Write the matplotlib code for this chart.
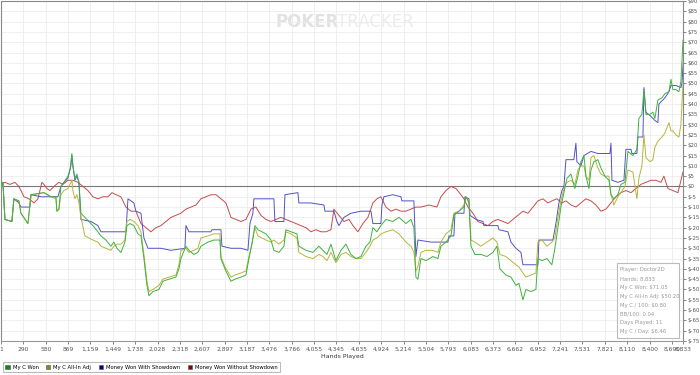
import matplotlib
matplotlib.use("Agg")
import matplotlib.pyplot as plt
import matplotlib.patches as mpatches
from matplotlib.ticker import FuncFormatter

# hands played / dollars
won_x = [1, 26, 52, 142, 168, 233, 259, 350, 389, 557, 648, 712, 725, 751, 777, 816, 868, 894, 919, 932,
         958, 984, 1010, 1036, 1088, 1140, 1191, 1256, 1295, 1360, 1425, 1463, 1502, 1554, 1606, 1632,
         1671, 1722, 1774, 1813, 1852, 1891, 1917, 1968, 2046, 2098, 2176, 2266, 2305, 2331, 2396, 2435,
         2499, 2551, 2590, 2681, 2758, 2836, 2849, 2901, 2979, 3030, 3108, 3173, 3212, 3250, 3289, 3328,
         3432, 3497, 3535, 3600, 3665, 3691, 3756, 3833, 3859, 3950, 4040, 4118, 4170, 4222, 4274, 4338,
         4403, 4468, 4533, 4597, 4662, 4727, 4779, 4817, 4869, 4921, 4986, 5076, 5154, 5245, 5310, 5348,
         5374, 5400, 5439, 5504, 5594, 5659, 5698, 5763, 5828, 5866, 5931, 5996, 6022, 6061, 6087, 6138,
         6216, 6294, 6371, 6423, 6462, 6540, 6605, 6669, 6708, 6760, 6799, 6864, 6928, 6954, 7006, 7071,
         7135, 7174, 7213, 7252, 7291, 7330, 7382, 7433, 7472, 7511, 7550, 7576, 7615, 7641, 7679, 7731,
         7770, 7822, 7874, 7900, 7938, 7990, 8029, 8081, 8120, 8184, 8236, 8262, 8301, 8327, 8353, 8405,
         8443, 8469, 8508, 8560, 8599, 8651, 8677, 8702, 8741, 8780, 8806, 8833]
won_y = [0, 2, -16, -17, -6, -7, -13, -18, -4, -3, -5, -5, -12, -11, 0, 2, 5, 8, 16, 10,
         4, 6, 2, -13, -15, -17, -19, -22, -24, -26, -29, -27, -30, -32, -27, -19,
         -18, -19, -23, -24, -35, -48, -53, -51, -50, -46, -45, -44, -40, -35, -29, -31,
         -33, -32, -29, -27, -26, -26, -35, -40, -46, -45, -44, -43, -35, -28, -19, -21,
         -23, -26, -31, -32, -29, -21, -22, -23, -29, -31, -32, -29, -31, -33, -28, -36,
         -31, -28, -33, -35, -34, -29, -27, -20, -22, -19, -16, -17, -15, -18, -16, -20,
         -44, -45, -35, -36, -34, -35, -29, -27, -24, -14, -12, -10, -5, -8, -29, -33,
         -33, -34, -32, -29, -40, -43, -44, -48, -47, -55, -50, -51, -50, -35, -36, -35,
         -38, -30, -20, -10, -3, 4, 6, -1, 5, 12, 15, 5, -1, 8, 12, 13,
         9, 5, 3, -4, -6, -4, 1, 2, 17, 15, 18, 33, 35, 47, 35, 35,
         36, 33, 42, 43, 45, 46, 52, 47, 47, 46, 51, 71]

adj_x = won_x
adj_y = [0, 2, -16, -17, -6, -7, -13, -18, -4, -3, -5, -6, -12, -11, -4, -2, -1, 1, 3, -2,
         -6, -4, -8, -15, -24, -25, -26, -27, -29, -30, -31, -29, -28, -28, -26, -17,
         -16, -17, -19, -22, -33, -46, -51, -50, -48, -45, -44, -43, -38, -31, -30, -32,
         -31, -30, -25, -24, -23, -23, -34, -39, -44, -43, -42, -41, -34, -28, -20, -24,
         -26, -27, -26, -28, -26, -22, -23, -25, -32, -34, -35, -33, -34, -36, -32, -37,
         -33, -32, -34, -35, -35, -32, -29, -26, -25, -23, -22, -21, -23, -27, -29, -32,
         -41, -39, -32, -31, -31, -32, -27, -23, -21, -13, -12, -9, -5, -7, -26, -27,
         -29, -27, -25, -27, -33, -34, -36, -38, -39, -42, -44, -43, -42, -27, -26, -29,
         -27, -25, -15, -7, -1, 2, 3, 1, 8, 10, 10, 5, 3, 14, 15, 9,
         6, 5, 5, -4, -9, -5, -3, 0, 8, 7, -6, 4, 10, 25, 14, 12,
         13, 19, 22, 24, 26, 31, 27, 27, 25, 24, 30, 50]

sd_x = [1, 26, 52, 142, 168, 233, 259, 375, 389, 518, 648, 738, 777, 816, 868, 906, 919, 932, 958, 984,
        1010, 1036, 1166, 1256, 1295, 1463, 1619, 1645, 1722, 1748, 1813, 1852, 1904, 2072, 2202, 2383,
        2396, 2435, 2590, 2720, 2733, 2849, 2862, 2979, 3108, 3199, 3225, 3263, 3276, 3406, 3535, 3548,
        3665, 3678, 3846, 3859, 4015, 4183, 4196, 4313, 4351, 4377, 4442, 4533, 4662, 4792, 4817, 4921,
        4934, 4960, 5076, 5180, 5193, 5348, 5374, 5400, 5569, 5659, 5789, 5802, 5866, 5879, 5996, 6009,
        6061, 6074, 6151, 6242, 6255, 6436, 6449, 6566, 6605, 6669, 6734, 6760, 6954, 6967, 7148, 7187,
        7226, 7265, 7291, 7317, 7420, 7446, 7459, 7511, 7550, 7641, 7731, 7835, 7887, 7900, 7913, 7990,
        8068, 8094, 8159, 8171, 8236, 8249, 8314, 8327, 8353, 8418, 8469, 8508, 8521, 8599, 8651, 8677,
        8741, 8806, 8819, 8845]
sd_y = [0, 2, -16, -17, -6, -8, -10, -10, -4, -5, -5, -5, 0, 2, 4, 10, 15, 10, 3, 5,
        2, -16, -17, -19, -22, -22, -22, -6, -8, -12, -13, -25, -30, -30, -31, -30,
        -19, -22, -22, -22, -21, -21, -29, -30, -30, -31, -18, -13, -6, -6, -6, -17,
        -17, -4, -3, -8, -8, -9, -12, -12, -17, -19, -15, -13, -12, -12, -18, -18,
        -9, -5, -4, -5, -7, -7, -34, -26, -27, -27, -27, -24, -24, -13, -13, -5,
        -6, -14, -16, -17, -19, -19, -21, -22, -27, -30, -32, -38, -38, -26, -26, -18,
        -8, -2, 0, 13, 13, 21, 12, 10, 15, 17, 16, 16, 16, 21, 3, 2,
        3, 18, 18, 16, 16, 24, 24, 48, 36, 34, 32, 31, 40, 43, 46, 49,
        49, 48, 50, 65]

nsd_x = [1, 52, 116, 181, 233, 298, 363, 428, 479, 531, 557, 596, 635, 686, 751, 803, 868, 932, 997,
         1062, 1127, 1191, 1256, 1321, 1386, 1438, 1490, 1554, 1619, 1683, 1748, 1813, 1878, 1943, 2007,
         2072, 2137, 2202, 2266, 2331, 2396, 2461, 2526, 2590, 2655, 2720, 2785, 2849, 2914, 2979, 3043,
         3108, 3173, 3238, 3302, 3367, 3432, 3497, 3561, 3626, 3691, 3756, 3820, 3885, 3950, 4015, 4079,
         4144, 4209, 4274, 4312, 4377, 4442, 4507, 4559, 4623, 4688, 4753, 4817, 4869, 4921, 4986, 5051,
         5115, 5180, 5245, 5310, 5374, 5439, 5543, 5646, 5698, 5763, 5828, 5893, 5957, 5996, 6048, 6113,
         6177, 6242, 6307, 6371, 6436, 6501, 6566, 6630, 6695, 6760, 6825, 6889, 6954, 7019, 7084, 7135,
         7200, 7265, 7317, 7382, 7446, 7511, 7576, 7641, 7706, 7770, 7835, 7900, 7964, 8029, 8094, 8159,
         8223, 8288, 8353, 8418, 8482, 8547, 8586, 8638, 8702, 8767, 8806, 8833]
nsd_y = [1, 2, 1, 2, 0, -5, -6, -8, -6, 2, 1, -1, -2, 0, 2, 1, 3, 3, 2,
         0, -2, -5, -6, -5, -5, -3, -4, -5, -10, -12, -12, -18, -20, -22, -20,
         -19, -17, -15, -14, -13, -11, -10, -9, -6, -5, -4, -4, -6, -8, -15, -16,
         -17, -16, -11, -10, -14, -16, -17, -16, -15, -16, -17, -18, -19, -20, -22, -21,
         -22, -22, -21, -11, -14, -17, -16, -19, -22, -18, -15, -8, -6, -5, -10, -12,
         -11, -12, -12, -11, -10, -10, -9, -10, -5, -2, 0, -1, -4, -6, -10, -13,
         -17, -18, -19, -17, -16, -17, -18, -16, -14, -12, -13, -10, -7, -6, -8, -7,
         -6, -8, -7, -9, -10, -8, -6, -7, -9, -12, -11, -8, -5, -3, -2, -3,
         -1, 1, 2, 3, 3, 2, 5, -1, -2, -3, 3, 7]

x_ticks = [1, 290, 580, 869, 1159, 1449, 1738, 2028, 2318, 2607, 2897, 3187, 3476, 3766, 4055, 4345,
           4635, 4924, 5214, 5504, 5793, 6083, 6373, 6662, 6952, 7241, 7531, 7821, 8110, 8400, 8690, 8833]
y_ticks = list(range(-75, 95, 5))

series_names = ["My C Won", "My C All-In Adj", "Money Won With Showdown", "Money Won Without Showdown"]
line_colors = ["#3fb13f", "#b5b53c", "#5252c8", "#c84a4a"]
legend_colors = ["#118811", "#888811", "#000088", "#880000"]

stats = ["Player: Doctor2D", "Hands: 8,833", "My C Won: $71.05", "My C All-In Adj: $50.20",
         "My C / 100: $0.80", "BB/100: 0.04", "Days Played: 11", "My C / Day: $6.46"]

plt.rcParams['font.family'] = ['DejaVu Sans']
fig = plt.figure(figsize=(7, 3.75), dpi=100)
ax = fig.add_axes([1 / 700, 34 / 375, 682 / 700, 340 / 375])

ax.set_xlim(1, 8833)
ax.set_ylim(-75, 90)
ax.set_xticks(x_ticks)
ax.set_yticks(y_ticks)
ax.xaxis.set_major_formatter(FuncFormatter(lambda v, p: f"{int(round(v)):,}"))
ax.yaxis.set_major_formatter(FuncFormatter(lambda v, p: f"${int(v)}"))
ax.yaxis.tick_right()
ax.tick_params(axis='both', labelsize=4.3, colors='#555555', length=2.5, width=0.5, pad=1.5)
ax.tick_params(axis='y', labelsize=3.9, pad=1)
ax.grid(True, color='#ececec', linewidth=0.6)
ax.set_axisbelow(True)
for s in ax.spines.values():
    s.set_color('#888888')
    s.set_linewidth(0.8)
ax.spines['bottom'].set_color('#999999')

ax.axhline(0, color='#777777', linewidth=0.8, zorder=1)

# watermark
ax.text(0.403, 0.965, "POKER", transform=ax.transAxes, fontsize=12, fontweight='bold',
        color='#e2e2e2', ha='left', va='top', zorder=0)
ax.text(0.493, 0.965, "TRACKER", transform=ax.transAxes, fontsize=12,
        color='#ececec', ha='left', va='top', zorder=0)

ax.plot(nsd_x, nsd_y, color=line_colors[3], linewidth=0.7, zorder=2)
ax.plot(sd_x, sd_y, color=line_colors[2], linewidth=0.7, zorder=3)
ax.plot(adj_x, adj_y, color=line_colors[1], linewidth=0.7, zorder=4)
ax.plot(won_x, won_y, color=line_colors[0], linewidth=0.7, zorder=5)

ax.set_xlabel("Hands Played", fontsize=4.5, color='#333333', labelpad=2)

# stats box
box = mpatches.Rectangle((617 / 700, (375 - 338) / 375), 62 / 700, 75 / 375,
                         transform=fig.transFigure, facecolor='white', edgecolor='#bbbbbb',
                         linewidth=0.8, zorder=6)
fig.patches.append(box)
for i, line in enumerate(stats):
    fig.text(620 / 700, (375 - 270 - i * 8.8) / 375, line, fontsize=3.8, color='#999999',
             ha='left', va='center', zorder=10)

# legend
handles = [mpatches.Patch(facecolor=c, edgecolor='#555555', linewidth=0.4, label=n)
           for c, n in zip(legend_colors, series_names)]
leg = fig.legend(handles=handles, loc='lower left', bbox_to_anchor=(0.0, 0.0), ncol=4,
                 fontsize=3.8, frameon=True, fancybox=False, borderpad=0.5,
                 handlelength=0.8, handleheight=0.8, handletextpad=0.6, columnspacing=1.4)
leg.get_frame().set_edgecolor('#aaaaaa')
leg.get_frame().set_linewidth(0.8)

fig.savefig("out.png", dpi=100)
